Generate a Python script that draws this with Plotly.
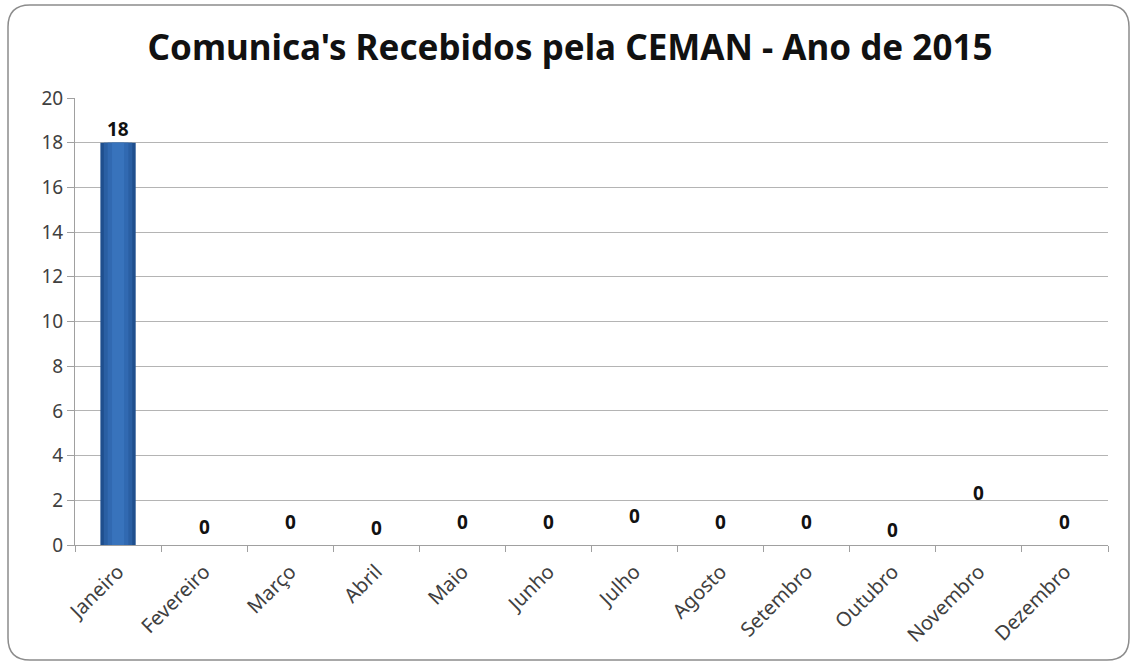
import plotly.graph_objects as go

meses = ["Janeiro", "Fevereiro", "Março", "Abril", "Maio", "Junho", "Julho",
         "Agosto", "Setembro", "Outubro", "Novembro", "Dezembro"]
valores = [18, 0, 0, 0, 0, 0, 0, 0, 0, 0, 0, 0]
# pixel offsets of the data labels above each bar top (style only)
label_shift = [14, 18, 23, 17, 23, 23, 29, 23, 23, 15, 52, 23]
y_ticks = [0, 2, 4, 6, 8, 10, 12, 14, 16, 18, 20]

W, H = 1132, 665
L, R, T, B = 75, 24, 98, 120
pw, ph = W - L - R, H - T - B

fig = go.Figure()
# fake horizontal gradient with overlaid bars
for w, c in [(0.41, "#1f4f8e"), (0.33, "#2a5fa3"), (0.24, "#3169b1"), (0.14, "#3873bc")]:
    fig.add_trace(go.Bar(x=meses, y=valores, width=w, marker=dict(color=c, line=dict(width=0)),
                         hoverinfo="skip", showlegend=False))

for m, v, s in zip(meses, valores, label_shift):
    fig.add_annotation(x=m, y=v, text=f"<b>{v}</b>", showarrow=False, yshift=s,
                       font=dict(family="Noto Sans", size=19, color="#111111"),
                       xanchor="center", yanchor="middle")

def px_x(p):
    return (p - L) / pw

def px_y(p):
    return (H - B - p) / ph

x0, x1, y0, y1 = 8, 1129, 5, 660
r = 22
path = (f"M {px_x(x0 + r)},{px_y(y0)} L {px_x(x1 - r)},{px_y(y0)} "
        f"Q {px_x(x1)},{px_y(y0)} {px_x(x1)},{px_y(y0 + r)} "
        f"L {px_x(x1)},{px_y(y1 - r)} Q {px_x(x1)},{px_y(y1)} {px_x(x1 - r)},{px_y(y1)} "
        f"L {px_x(x0 + r)},{px_y(y1)} Q {px_x(x0)},{px_y(y1)} {px_x(x0)},{px_y(y1 - r)} "
        f"L {px_x(x0)},{px_y(y0 + r)} Q {px_x(x0)},{px_y(y0)} {px_x(x0 + r)},{px_y(y0)} Z")
fig.add_shape(type="path", path=path, xref="paper", yref="paper",
              line=dict(color="#8c8c8c", width=1.5), layer="below")

fig.update_layout(
    width=W, height=H,
    margin=dict(l=L, r=R, t=T, b=B),
    paper_bgcolor="white", plot_bgcolor="white",
    barmode="overlay",
    title=dict(text="<b>Comunica's Recebidos pela CEMAN - Ano de 2015</b>",
               x=570 / W, xanchor="center", y=1 - 48 / H, yanchor="middle",
               font=dict(family="Noto Sans", size=35, color="#111111")),
    xaxis=dict(type="category", tickangle=-45, tickson="boundaries",
               ticks="outside", ticklen=6, tickcolor="#a0a0a0",
               showline=True, linecolor="#a0a0a0", linewidth=1,
               showgrid=False, ticklabelstandoff=6,
               tickfont=dict(family="Noto Sans", size=20, color="#404040")),
    yaxis=dict(range=[0, 20], tickvals=y_ticks, ticks="outside", ticklen=7,
               tickcolor="#a0a0a0", showline=True, linecolor="#a0a0a0", linewidth=1,
               showgrid=True, gridcolor="#b4b4b4", gridwidth=1, zeroline=False,
               tickfont=dict(family="Noto Sans", size=19, color="#404040")),
)

fig.write_html("out.html", config={"displayModeBar": False},
               post_script="document.body.style.margin='0';document.body.style.overflow='hidden';")
